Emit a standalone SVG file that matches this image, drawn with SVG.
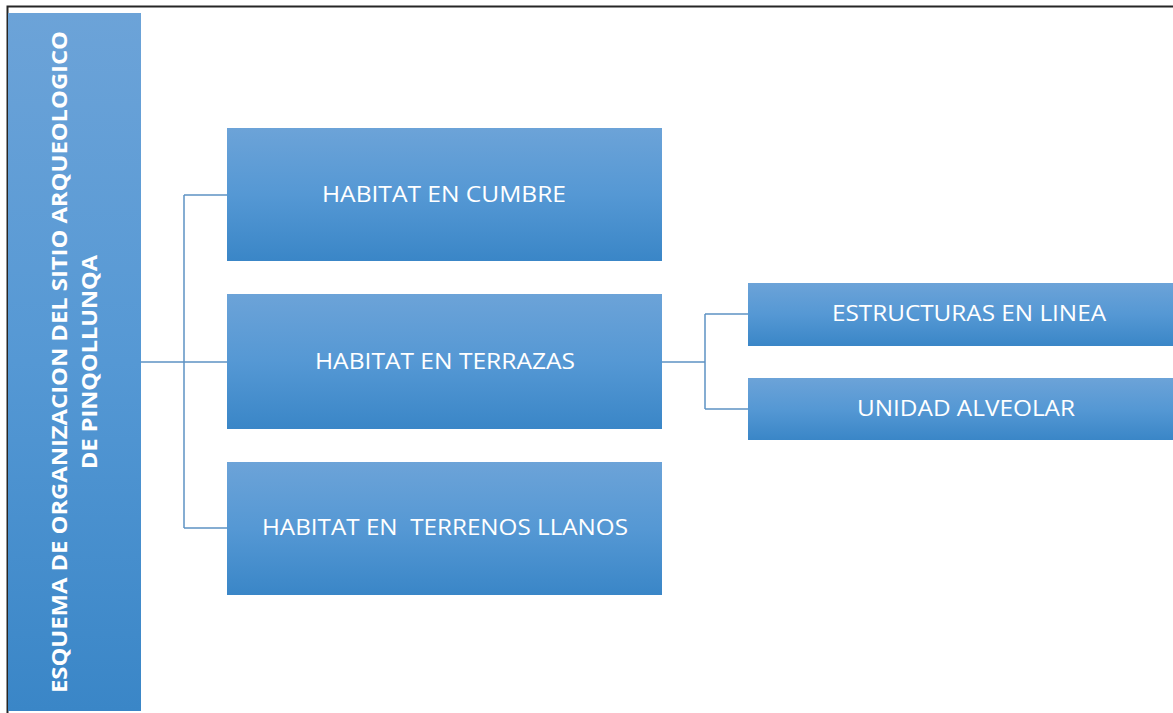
<svg xmlns="http://www.w3.org/2000/svg" width="1173" height="713" viewBox="0 0 1173 713">
<defs>
<linearGradient id="g" x1="0" y1="0" x2="0" y2="1">
<stop offset="0" stop-color="#6ca3d8"/>
<stop offset="0.5" stop-color="#5598d4"/>
<stop offset="1" stop-color="#3a86c7"/>
</linearGradient>
<style>
.box{fill:url(#g);}
.lbl{font-family:"Open Sans","Liberation Sans",sans-serif;font-size:21px;fill:#ffffff;text-anchor:middle;white-space:pre;}
.title{font-family:"Open Sans","Liberation Sans",sans-serif;font-size:21px;font-weight:bold;fill:#ffffff;text-anchor:middle;}
.conn{fill:none;stroke:#5e92c3;stroke-width:1.5;}
</style>
</defs>
<rect width="1173" height="713" fill="#ffffff"/>
<path d="M7.5,713 V6.5 H1173" fill="none" stroke="#262626" stroke-width="2"/>
<g id="connectors">
<path class="conn" d="M141,362 H227 M184,195 V528 M184,195 H227 M184,528 H227"/>
<path class="conn" d="M662,362 H705 M705,314 V409 M705,314 H748 M705,409 H748"/>
</g>
<g id="root">
<rect class="box" x="8" y="13" width="133" height="698"/>
<text class="title" transform="translate(67,362) rotate(-90)" x="0" y="0" textLength="662" lengthAdjust="spacingAndGlyphs">ESQUEMA DE ORGANIZACION DEL SITIO ARQUEOLOGICO</text>
<text class="title" transform="translate(97,362) rotate(-90)" x="0" y="0" textLength="214" lengthAdjust="spacingAndGlyphs">DE PINQOLLUNQA</text>
</g>
<g id="cumbre">
<rect class="box" x="227" y="128" width="435" height="133"/>
<text class="lbl" x="444" y="202" textLength="244" lengthAdjust="spacingAndGlyphs">HABITAT EN CUMBRE</text>
</g>
<g id="terrazas">
<rect class="box" x="227" y="294" width="435" height="135"/>
<text class="lbl" x="445" y="369" textLength="260" lengthAdjust="spacingAndGlyphs">HABITAT EN TERRAZAS</text>
</g>
<g id="llanos">
<rect class="box" x="227" y="462" width="435" height="133"/>
<text class="lbl" x="445" y="535" textLength="366" lengthAdjust="spacingAndGlyphs">HABITAT EN  TERRENOS LLANOS</text>
</g>
<g id="linea">
<rect class="box" x="748" y="283" width="425" height="63"/>
<text class="lbl" x="969" y="321" textLength="274" lengthAdjust="spacingAndGlyphs">ESTRUCTURAS EN LINEA</text>
</g>
<g id="alveolar">
<rect class="box" x="748" y="378" width="425" height="62"/>
<text class="lbl" x="966" y="416" textLength="218" lengthAdjust="spacingAndGlyphs">UNIDAD ALVEOLAR</text>
</g>
</svg>
